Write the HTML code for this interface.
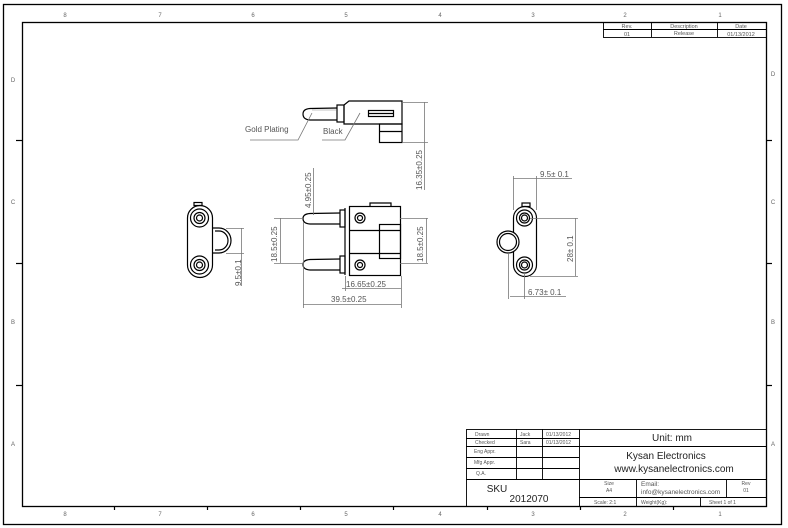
<!DOCTYPE html>
<html><head><meta charset="utf-8"><style>
html,body{margin:0;padding:0;background:#fff;}
svg{display:block;}
text{font-family:"Liberation Sans",sans-serif;}
</style></head><body>
<svg width="788" height="528" viewBox="0 0 788 528" xmlns="http://www.w3.org/2000/svg">
<rect x="0" y="0" width="788" height="528" fill="#fff"/>
<!-- borders -->
<rect x="3.5" y="4.5" width="778" height="520" fill="none" stroke="#000" stroke-width="1.3"/>
<rect x="22.5" y="22.5" width="744" height="484" fill="none" stroke="#000" stroke-width="1.3"/>
<!-- zone ticks -->
<g stroke="#000" stroke-width="1.2">
<line x1="114.5" y1="506" x2="114.5" y2="510"/><line x1="207.5" y1="506" x2="207.5" y2="510"/><line x1="300.5" y1="506" x2="300.5" y2="510"/><line x1="393.5" y1="506" x2="393.5" y2="510"/><line x1="487.5" y1="506" x2="487.5" y2="510"/><line x1="580.5" y1="506" x2="580.5" y2="510"/><line x1="673.5" y1="506" x2="673.5" y2="510"/>
<line x1="16" y1="140.5" x2="22" y2="140.5"/><line x1="16" y1="263.5" x2="22" y2="263.5"/><line x1="16" y1="385.5" x2="22" y2="385.5"/>
<line x1="767" y1="140.5" x2="772" y2="140.5"/><line x1="767" y1="263.5" x2="772" y2="263.5"/><line x1="767" y1="385.5" x2="772" y2="385.5"/>
</g>
<g font-size="6" fill="#666" text-anchor="middle">
<text x="65" y="17">8</text><text x="160" y="17">7</text><text x="253" y="17">6</text><text x="346" y="17">5</text><text x="440" y="17">4</text><text x="533" y="17">3</text><text x="625" y="17">2</text><text x="720" y="17">1</text>
<text x="65" y="516">8</text><text x="160" y="516">7</text><text x="253" y="516">6</text><text x="346" y="516">5</text><text x="440" y="516">4</text><text x="533" y="516">3</text><text x="625" y="516">2</text><text x="720" y="516">1</text>
<text x="13" y="82">D</text><text x="13" y="204">C</text><text x="13" y="324">B</text><text x="13" y="446">A</text>
<text x="773" y="76">D</text><text x="773" y="204">C</text><text x="773" y="324">B</text><text x="773" y="446">A</text>
</g>
<!-- revision table -->
<g stroke="#000" stroke-width="0.9" fill="none">
<rect x="603.5" y="22.5" width="163" height="15"/>
<line x1="603" y1="29.5" x2="766" y2="29.5"/>
<line x1="651.5" y1="22" x2="651.5" y2="37"/><line x1="717.5" y1="22" x2="717.5" y2="37"/>
</g>
<g font-size="5.5" fill="#555" text-anchor="middle">
<text x="627" y="28">Rev.</text><text x="684" y="28">Description</text><text x="741" y="28">Date</text>
<text x="627" y="36">01</text><text x="684" y="35">Release</text><text x="741" y="36">01/13/2012</text>
</g>

<!-- side view (top) -->
<g stroke="#000" stroke-width="1.2" fill="none">
<path d="M337,108 L310,108.5 Q303,109 303,114 Q303,119.5 310,120 L337,120"/>
<line x1="312" y1="110" x2="336" y2="110" stroke="#888" stroke-width="0.5"/>
<rect x="337" y="105" width="7" height="17"/>
<path d="M344,105 L349,101 L402,101 L402,124 L344,124 Z"/>
<rect x="368.5" y="110.5" width="25" height="6"/>
<line x1="368" y1="113.5" x2="393" y2="113.5"/>
<rect x="379.5" y="124" width="22.5" height="18.5"/>
<line x1="379" y1="131.5" x2="402" y2="131.5"/>
</g>
<g stroke="#777" stroke-width="0.8" fill="none">
<polyline points="250,140 298,140 312,113"/>
<polyline points="322,140 345,140 360,113"/>
<line x1="402" y1="102.5" x2="428" y2="102.5"/><line x1="402" y1="142.5" x2="428" y2="142.5"/>
<line x1="424.5" y1="102" x2="424.5" y2="190"/>
</g>
<g font-size="8" fill="#555">
<text x="245" y="132">Gold Plating</text>
<text x="323" y="134">Black</text>
<text transform="translate(422,190) rotate(-90)">16.35±0.25</text>
</g>

<!-- front view -->
<g stroke="#000" stroke-width="1.2" fill="none">
<path d="M340,213 L310,213.5 Q303,214 303,218.5 Q303,223.5 310,224 L340,224"/>
<path d="M340,259 L310,259.5 Q303,260 303,264.5 Q303,269.5 310,270 L340,270"/>
<rect x="340" y="210" width="5" height="17"/><rect x="340" y="256" width="5" height="17"/>
<line x1="345" y1="208" x2="345" y2="275"/>
<rect x="349.5" y="206.5" width="51" height="69"/>
<path d="M370,206 L370,203 L391,203 L391,206"/>
<line x1="349" y1="230.5" x2="400" y2="230.5"/><line x1="349" y1="253.5" x2="400" y2="253.5"/>
<rect x="379.5" y="224.5" width="21" height="34"/>
<circle cx="360" cy="218" r="5"/><circle cx="360" cy="218" r="2.5"/>
<circle cx="360" cy="265" r="5"/><circle cx="360" cy="265" r="2.5"/>
</g>
<g stroke="#777" stroke-width="0.8" fill="none">
<line x1="274" y1="218.5" x2="303" y2="218.5"/><line x1="274" y1="263.5" x2="303" y2="263.5"/>
<line x1="280.5" y1="218" x2="280.5" y2="263"/>
<line x1="400" y1="218.5" x2="428" y2="218.5"/><line x1="400" y1="263.5" x2="428" y2="263.5"/>
<line x1="426.5" y1="218" x2="426.5" y2="263"/>
<line x1="313.5" y1="168" x2="313.5" y2="215"/>
<line x1="303.5" y1="222" x2="303.5" y2="308"/>
<line x1="401.5" y1="276" x2="401.5" y2="308"/>
<line x1="345.5" y1="276" x2="345.5" y2="291"/>
<line x1="342" y1="288.5" x2="401" y2="288.5"/>
<line x1="303" y1="304.5" x2="401" y2="304.5"/>
</g>
<g font-size="8" fill="#555">
<text transform="translate(277,262) rotate(-90)">18.5±0.25</text>
<text transform="translate(423,262) rotate(-90)">18.5±0.25</text>
<text transform="translate(311,208) rotate(-90)">4.95±0.25</text>
<text x="346" y="287">16.65±0.25</text>
<text x="331" y="302">39.5±0.25</text>
</g>

<!-- left view -->
<g stroke="#000" stroke-width="1.2" fill="none">
<path d="M212,228 L219,228 A12,12.5 0 0 1 219,253 L212,253"/>
<path d="M215,231 L219,231 A9,9.5 0 0 1 219,250 L215,250"/>
<rect x="187.5" y="205.5" width="25" height="72" rx="12.5" ry="12.5"/>
<rect x="194" y="202.5" width="8" height="3"/>
<circle cx="199.5" cy="218" r="9"/><circle cx="199.5" cy="218" r="5.5"/><circle cx="199.5" cy="218" r="3"/>
<circle cx="199.5" cy="265" r="9"/><circle cx="199.5" cy="265" r="5.5"/><circle cx="199.5" cy="265" r="3"/>
</g>
<g stroke="#777" stroke-width="0.8" fill="none">
<line x1="226" y1="228.5" x2="244" y2="228.5"/><line x1="226" y1="253.5" x2="244" y2="253.5"/>
<line x1="241.5" y1="228" x2="241.5" y2="286"/>
</g>
<text transform="translate(241,286) rotate(-90)" font-size="8" fill="#555">9.5±0.1</text>

<!-- right view -->
<g stroke="#000" stroke-width="1.2" fill="none">
<rect x="513.5" y="206.5" width="23" height="70" rx="11.5" ry="11.5"/>
<rect x="522" y="203" width="8" height="3.5"/>
<circle cx="508" cy="242" r="11" fill="#fff"/><circle cx="508" cy="242" r="8.5"/>
<circle cx="524.5" cy="218" r="8"/><circle cx="524.5" cy="218" r="5"/><circle cx="524.5" cy="218" r="3"/>
<circle cx="524.5" cy="265" r="8"/><circle cx="524.5" cy="265" r="5"/><circle cx="524.5" cy="265" r="3"/>
</g>
<g stroke="#777" stroke-width="0.8" fill="none">
<line x1="513.5" y1="176" x2="513.5" y2="210"/><line x1="536.5" y1="176" x2="536.5" y2="210"/>
<line x1="513" y1="178.5" x2="572" y2="178.5"/>
<line x1="530" y1="218.5" x2="578" y2="218.5"/><line x1="530" y1="276.5" x2="578" y2="276.5"/>
<line x1="575.5" y1="218" x2="575.5" y2="276"/>
<line x1="508.5" y1="254" x2="508.5" y2="299"/><line x1="524.5" y1="273" x2="524.5" y2="299"/>
<line x1="510" y1="296.5" x2="566" y2="296.5"/>
</g>
<g font-size="8" fill="#555">
<text x="540" y="177">9.5± 0.1</text>
<text transform="translate(573,262) rotate(-90)">28± 0.1</text>
<text x="528" y="295">6.73± 0.1</text>
</g>

<!-- title block -->
<g stroke="#000" stroke-width="0.9" fill="none">
<rect x="466.5" y="429.5" width="300" height="77"/>
<line x1="466" y1="438.5" x2="579" y2="438.5"/>
<line x1="466" y1="446.5" x2="766" y2="446.5"/>
<line x1="466" y1="457.5" x2="579" y2="457.5"/>
<line x1="466" y1="468.5" x2="579" y2="468.5"/>
<line x1="466" y1="479.5" x2="766" y2="479.5"/>
<line x1="579" y1="497.5" x2="766" y2="497.5"/>
<line x1="516.5" y1="429" x2="516.5" y2="479"/>
<line x1="542.5" y1="429" x2="542.5" y2="479"/>
<line x1="579.5" y1="429" x2="579.5" y2="506"/>
<line x1="636.5" y1="479" x2="636.5" y2="506"/>
<line x1="726.5" y1="479" x2="726.5" y2="497"/>
<line x1="700.5" y1="497" x2="700.5" y2="506"/>
</g>
<g font-size="5" fill="#555">
<text x="475" y="436">Drawn</text><text x="520" y="436">Jack</text><text x="546" y="436">01/13/2012</text>
<text x="475" y="444">Checked</text><text x="520" y="444">Sara</text><text x="546" y="444">01/13/2012</text>
<text x="474" y="453">Eng Appr.</text>
<text x="474" y="464">Mfg Appr.</text>
<text x="476" y="475">Q.A.</text>
<text x="609" y="485" text-anchor="middle">Size</text><text x="609" y="492" text-anchor="middle">A4</text>
<text x="594" y="504">Scale: 2:1</text>
<text x="641" y="486" font-size="6.5">Email:</text>
<text x="641" y="494" font-size="6.5">info@kysanelectronics.com</text>
<text x="641" y="504">Weight(Kg):</text>
<text x="746" y="485" text-anchor="middle">Rev</text><text x="746" y="492" text-anchor="middle">01</text>
<text x="709" y="504">Sheet 1 of 1</text>
</g>
<g fill="#222" text-anchor="middle">
<text x="672" y="441" font-size="10">Unit: mm</text>
<text x="666" y="459" font-size="10">Kysan Electronics</text>
<text x="674" y="472" font-size="10">www.kysanelectronics.com</text>
<text x="497" y="492" font-size="10">SKU</text>
<text x="529" y="502" font-size="10">2012070</text>
</g>
</svg>
</body></html>
